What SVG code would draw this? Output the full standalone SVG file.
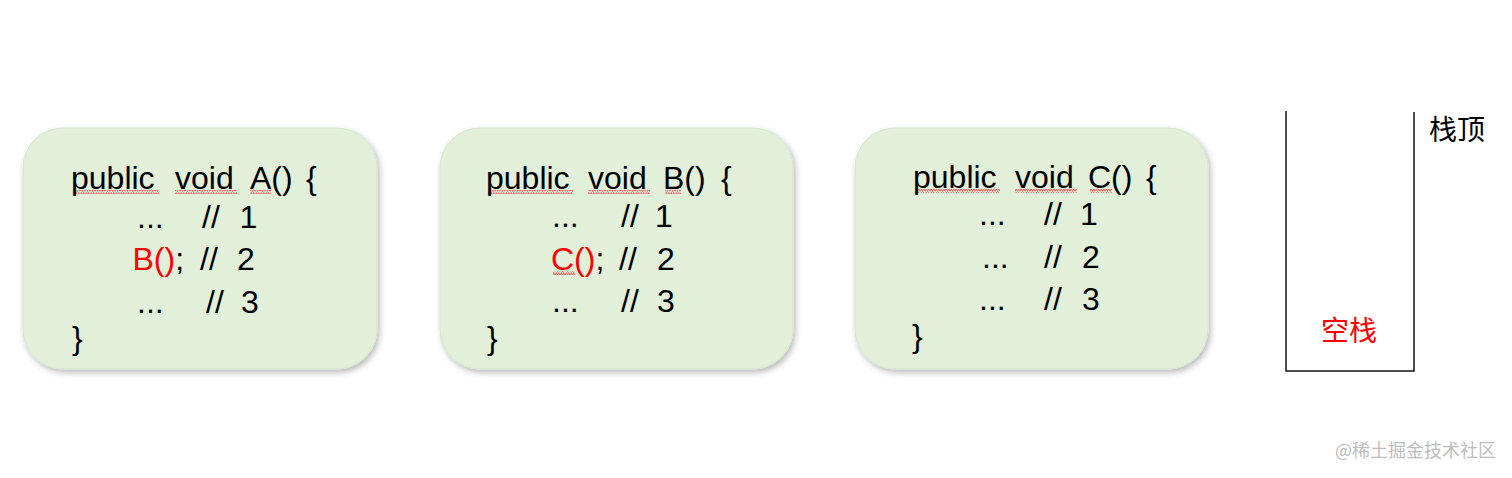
<svg xmlns="http://www.w3.org/2000/svg" width="1512" height="478" viewBox="0 0 1512 478">
<style>
.box{fill:#e2efd9;stroke:#d6e4cc;stroke-width:1}
.code{font-family:"Liberation Sans",Arial,sans-serif;font-size:32px;fill:#000}
.red{fill:#f00}
.cjk{font-family:"Noto Sans CJK SC","Noto Sans",sans-serif;font-size:28px}
.stack{stroke:#111;stroke-width:1.5;fill:none}
.wm{font-family:"Noto Sans CJK SC","Liberation Sans",sans-serif;font-size:18px;fill:#bdbdbd}
.sq{fill:url(#wave)}
</style>
<defs>
<filter id="sh" x="-10%" y="-10%" width="125%" height="125%">
<feDropShadow dx="2" dy="3" stdDeviation="3" flood-color="#000" flood-opacity="0.28"/>
</filter>
<pattern id="wave" width="5" height="4" patternUnits="userSpaceOnUse">
<path d="M0 3.5 L1.25 0.5 L2.5 3.5 L3.75 0.5 L5 3.5" fill="none" stroke="#e84040" stroke-width="0.8"/>
</pattern>
</defs>

<g id="nodeA">
<rect class="box" x="23" y="128" width="354" height="241" rx="40" filter="url(#sh)"/>
<rect class="sq" x="73" y="190" width="86" height="4"/>
<rect class="sq" x="175" y="190" width="62" height="4"/>
<rect class="sq" x="250" y="190" width="21" height="4"/>
<g class="code">
<text x="71" y="189">public</text>
<text x="175" y="189">void</text>
<text x="250" y="189">A()</text>
<text x="306" y="189">{</text>
<text x="137" y="228">...</text>
<text x="202" y="228">//</text>
<text x="239.5" y="228">1</text>
<text x="132.5" y="270"><tspan class="red">B()</tspan>;</text>
<text x="200" y="270">//</text>
<text x="237" y="270">2</text>
<text x="137" y="313">...</text>
<text x="206" y="313">//</text>
<text x="241" y="313">3</text>
<text x="72" y="349">}</text>
</g>
</g>

<g id="nodeB">
<rect class="box" x="440" y="128" width="353" height="241" rx="40" filter="url(#sh)"/>
<rect class="sq" x="488" y="190" width="85" height="4"/>
<rect class="sq" x="588" y="190" width="62" height="4"/>
<rect class="sq" x="665" y="190" width="16" height="4"/>
<rect class="sq" x="553" y="271" width="22" height="4"/>
<g class="code">
<text x="486" y="189">public</text>
<text x="588" y="189">void</text>
<text x="663" y="189">B()</text>
<text x="721" y="189">{</text>
<text x="552" y="227">...</text>
<text x="621" y="227">//</text>
<text x="655" y="227">1</text>
<text x="551" y="270"><tspan class="red">C()</tspan>;</text>
<text x="619" y="270">//</text>
<text x="657" y="270">2</text>
<text x="552" y="312">...</text>
<text x="621" y="312">//</text>
<text x="657" y="312">3</text>
<text x="487" y="349">}</text>
</g>
</g>

<g id="nodeC">
<rect class="box" x="855" y="128" width="353" height="241" rx="40" filter="url(#sh)"/>
<rect class="sq" x="915" y="189" width="85" height="4"/>
<rect class="sq" x="1015" y="189" width="62" height="4"/>
<rect class="sq" x="1090" y="189" width="22" height="4"/>
<g class="code">
<text x="913" y="188">public</text>
<text x="1015" y="188">void</text>
<text x="1088" y="188">C()</text>
<text x="1146" y="188">{</text>
<text x="979" y="225">...</text>
<text x="1044" y="225">//</text>
<text x="1080" y="225">1</text>
<text x="982" y="268">...</text>
<text x="1044" y="268">//</text>
<text x="1082" y="268">2</text>
<text x="979" y="310">...</text>
<text x="1044" y="310">//</text>
<text x="1082" y="310">3</text>
<text x="912" y="347">}</text>
</g>
</g>

<g id="stack">
<path class="stack" d="M1286 111 V371 H1414 V112"/>
<text class="cjk" x="1429" y="140" fill="#000">栈顶</text>
<text class="cjk" x="1321" y="341" fill="#f00">空栈</text>
</g>

<g id="connectors"></g>

<text class="wm" x="1335" y="457">@稀土掘金技术社区</text>
</svg>
